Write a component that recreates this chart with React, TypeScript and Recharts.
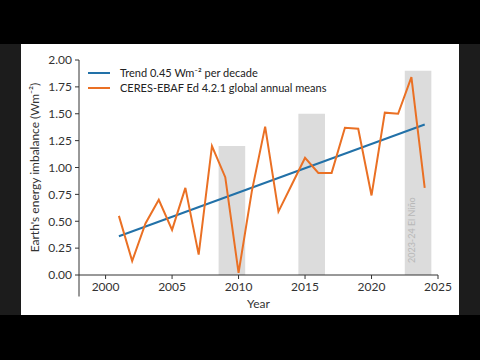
import { LineChart, Line, XAxis, YAxis, ReferenceArea, ReferenceLine, Legend } from 'recharts';

const years = [2001, 2002, 2003, 2004, 2005, 2006, 2007, 2008, 2009, 2010, 2011, 2012,
  2013, 2014, 2015, 2016, 2017, 2018, 2019, 2020, 2021, 2022, 2023, 2024];
const imbalance = [0.55, 0.13, 0.48, 0.7, 0.42, 0.81, 0.19, 1.2, 0.91, 0.02, 0.78, 1.38,
  0.59, 0.84, 1.09, 0.95, 0.95, 1.37, 1.36, 0.74, 1.51, 1.5, 1.84, 0.81];
const trendYears = [2001, 2024];
const trendValues = [0.36, 1.4];
const ninoStart = [2008.5, 2014.5, 2022.5];
const ninoEnd = [2010.5, 2016.5, 2024.5];
const ninoTop = [1.2, 1.5, 1.9];
const ninoLabel = ['', '', '2023-24 El Niño'];
const xTicks = [2000, 2005, 2010, 2015, 2020, 2025];
const yTicks = [0, 0.25, 0.5, 0.75, 1, 1.25, 1.5, 1.75, 2];

const trendName = 'Trend 0.45 Wm⁻² per decade';
const ceresName = 'CERES-EBAF Ed 4.2.1 global annual means';

const ORANGE = '#ea7024';
const BLUE = '#2271a8';
const INK = '#333';
const FONT = 'Lato, "Open Sans", sans-serif';

const ceresData = years.map((year, i) => ({ year, value: imbalance[i] }));
const trendData = trendYears.map((year, i) => ({ year, value: trendValues[i] }));

const legendItems = [
  { name: trendName, color: BLUE },
  { name: ceresName, color: ORANGE },
];

function LegendBox() {
  return (
    <div style={{ fontFamily: FONT, fontSize: 11, color: '#222' }}>
      {legendItems.map((item) => (
        <div key={item.name} style={{ display: 'flex', alignItems: 'center', height: 15 }}>
          <span style={{ display: 'inline-block', width: 22, height: 2, background: item.color, marginRight: 10 }} />
          <span>{item.name}</span>
        </div>
      ))}
    </div>
  );
}

function NinoLabel(props: any) {
  const vb = props.viewBox;
  const text = props.text;
  if (!vb || !text) return null;
  const x = vb.x + 10;
  const y = vb.y + vb.height - 12;
  return (
    <text x={x} y={y} transform={`rotate(-90, ${x}, ${y})`} fontSize={9} fill="#b8b8b8" fontFamily={FONT}>
      {text}
    </text>
  );
}

export default function App() {
  return (
    <div style={{ position: 'absolute', left: 0, top: 0, width: 480, height: 360, background: '#000' }}>
      <div style={{ position: 'absolute', left: 0, top: 44, width: 480, height: 271, background: '#1c1c1c' }} />
      <div style={{ position: 'absolute', left: 21, top: 44, width: 438, height: 271, background: '#fff' }}>
        <LineChart width={438} height={271} margin={{ top: 16, right: 21, bottom: 0, left: 0 }}>
          {ninoStart.map((s, i) => (
            <ReferenceArea
              key={s}
              x1={s}
              x2={ninoEnd[i]}
              y1={0}
              y2={ninoTop[i]}
              fill="#dcdcdc"
              fillOpacity={1}
              stroke="none"
              label={(p: any) => <NinoLabel {...p} text={ninoLabel[i]} />}
            />
          ))}
          <XAxis
            type="number"
            dataKey="year"
            domain={[1998, 2025]}
            ticks={xTicks}
            allowDataOverflow
            height={40}
            tickSize={4}
            tickMargin={3}
            axisLine={{ stroke: INK }}
            tickLine={{ stroke: INK }}
            tick={{ fill: INK, fontSize: 12, fontFamily: FONT }}
            label={{ value: 'Year', position: 'insideBottom', offset: 7, fill: INK, fontSize: 12, fontFamily: FONT }}
          />
          <YAxis
            type="number"
            domain={[0, 2]}
            ticks={yTicks}
            width={58}
            tickSize={4}
            tickMargin={3}
            tickFormatter={(v: number) => v.toFixed(2)}
            axisLine={{ stroke: INK }}
            tickLine={{ stroke: INK }}
            tick={{ fill: INK, fontSize: 12, fontFamily: FONT }}
            label={{
              value: "Earth's energy imbalance (Wm⁻²)",
              angle: -90,
              position: 'insideLeft',
              offset: 14,
              fill: INK,
              fontSize: 12,
              fontFamily: FONT,
              style: { textAnchor: 'middle' },
            }}
          />
          <ReferenceLine
            segment={[{ x: 1998, y: 0 }, { x: 1998, y: -0.2 }]}
            ifOverflow="visible"
            stroke={INK}
          />
          <Line data={trendData} dataKey="value" name={trendName} stroke={BLUE} strokeWidth={2} dot={false} isAnimationActive={false} />
          <Line data={ceresData} dataKey="value" name={ceresName} stroke={ORANGE} strokeWidth={2} dot={false} isAnimationActive={false} />
          <Legend
            layout="vertical"
            align="center"
            verticalAlign="middle"
            wrapperStyle={{ top: 21, left: 67, width: 'auto' }}
            content={() => <LegendBox />}
          />
        </LineChart>
      </div>
    </div>
  );
}
